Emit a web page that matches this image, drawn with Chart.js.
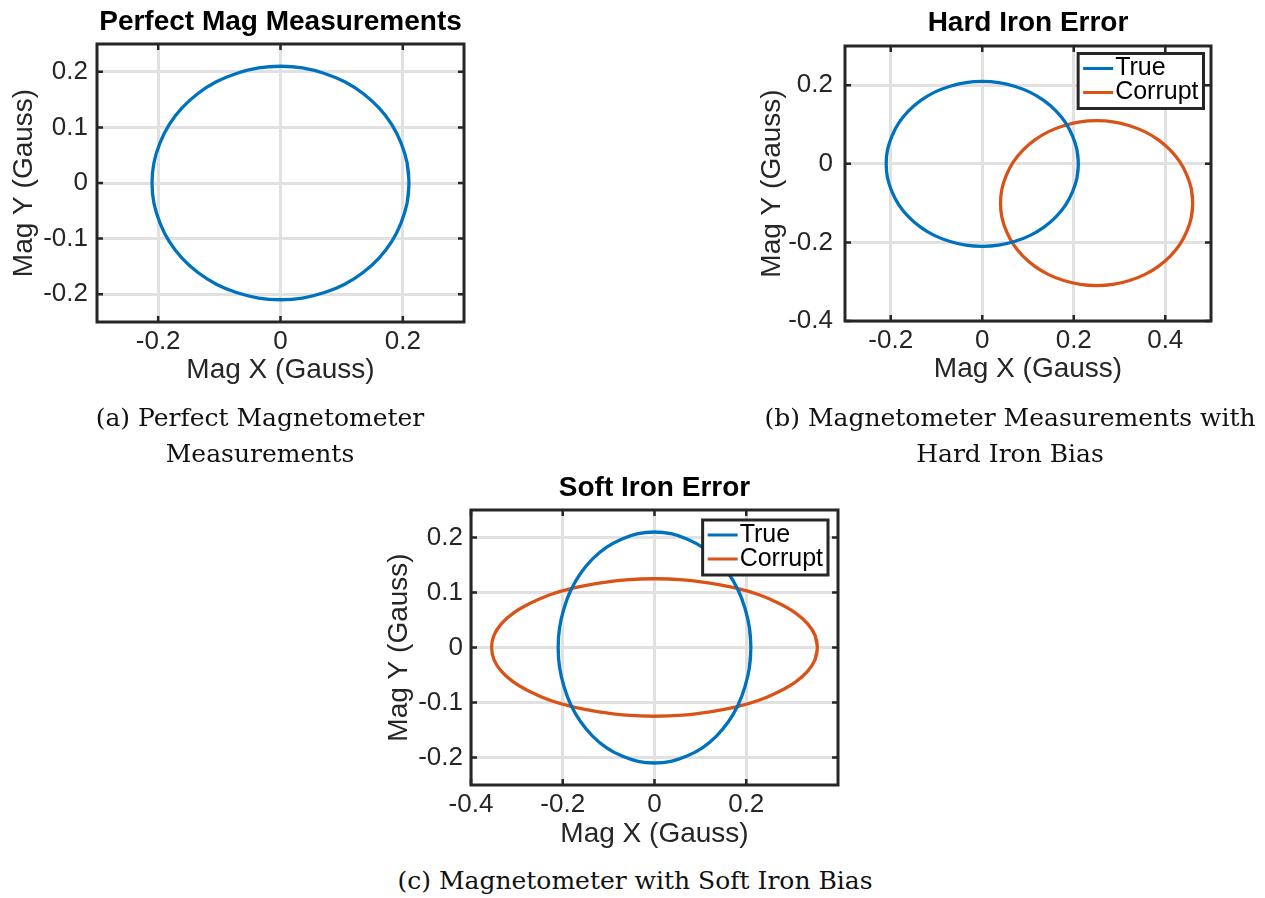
<!DOCTYPE html>
<html>
<head>
<meta charset="utf-8">
<script src="https://cdn.jsdelivr.net/npm/chart.js@4.4.1/dist/chart.umd.min.js"></script>
<style>
  html, body { margin: 0; padding: 0; background: #fff; }
  body { width: 1265px; height: 898px; position: relative; overflow: hidden; }
  canvas { position: absolute; }
  .cap { position: absolute; font-family: "DejaVu Serif", serif; font-size: 25px; line-height: 36px;
         color: #111; text-align: center; white-space: nowrap; }
</style>
</head>
<body>
<canvas id="chartA" width="480" height="395" style="left:0px;top:0px"></canvas>
<canvas id="chartB" width="525" height="395" style="left:740px;top:0px"></canvas>
<canvas id="chartC" width="500" height="395" style="left:370px;top:465px"></canvas>
<div class="cap" style="left:60px;width:400px;top:400px">(a) Perfect Magnetometer<br>Measurements</div>
<div class="cap" style="left:760px;width:500px;top:400px">(b) Magnetometer Measurements with<br>Hard Iron Bias</div>
<div class="cap" style="left:385px;width:500px;top:863px">(c) Magnetometer with Soft Iron Bias</div>
<script>
// tick positions of each panel
const ticksAX = [-0.2, 0, 0.2];
const ticksAY = [-0.2, -0.1, 0, 0.1, 0.2];
const ticksBX = [-0.2, 0, 0.2, 0.4];
const ticksBY = [-0.4, -0.2, 0, 0.2];
const ticksCX = [-0.4, -0.2, 0, 0.2];
const ticksCY = [-0.2, -0.1, 0, 0.1, 0.2];

const seriesNames = ['True', 'Corrupt'];

// points every ~10 deg; the first and last point
// overlap the start so the spline closes without a corner
// true field, radius ~0.21 G round the origin
const trueX = [0.207, 0.210, 0.207, 0.197, 0.182, 0.161, 0.135, 0.105, 0.072, 0.036, 0.000,
               -0.036, -0.072, -0.105, -0.135, -0.161, -0.182, -0.197, -0.207, -0.210,
               -0.207, -0.197, -0.182, -0.161, -0.135, -0.105, -0.072, -0.036, 0.000,
               0.036, 0.072, 0.105, 0.135, 0.161, 0.182, 0.197, 0.207, 0.210, 0.207];
const trueY = [-0.036, 0.000, 0.036, 0.072, 0.105, 0.135, 0.161, 0.182, 0.197, 0.207, 0.210,
               0.207, 0.197, 0.182, 0.161, 0.135, 0.105, 0.072, 0.036, 0.000,
               -0.036, -0.072, -0.105, -0.135, -0.161, -0.182, -0.197, -0.207, -0.210,
               -0.207, -0.197, -0.182, -0.161, -0.135, -0.105, -0.072, -0.036, 0.000, 0.036];

// hard iron: same circle shifted to about (0.25, -0.1)
const hardX = [0.457, 0.460, 0.457, 0.447, 0.432, 0.411, 0.385, 0.355, 0.322, 0.286, 0.250,
               0.214, 0.178, 0.145, 0.115, 0.089, 0.068, 0.053, 0.043, 0.040,
               0.043, 0.053, 0.068, 0.089, 0.115, 0.145, 0.178, 0.214, 0.250,
               0.286, 0.322, 0.355, 0.385, 0.411, 0.432, 0.447, 0.457, 0.460, 0.457];
const hardY = [-0.136, -0.100, -0.064, -0.028, 0.005, 0.035, 0.061, 0.082, 0.097, 0.107, 0.110,
               0.107, 0.097, 0.082, 0.061, 0.035, 0.005, -0.028, -0.064, -0.100,
               -0.136, -0.172, -0.205, -0.235, -0.261, -0.282, -0.297, -0.307, -0.310,
               -0.307, -0.297, -0.282, -0.261, -0.235, -0.205, -0.172, -0.136, -0.100, -0.064];

// soft iron: stretched in x (~0.355), squashed in y (~0.125)
const softX = [0.350, 0.355, 0.350, 0.334, 0.307, 0.272, 0.228, 0.178, 0.121, 0.062, 0.000,
               -0.062, -0.121, -0.178, -0.228, -0.272, -0.307, -0.334, -0.350, -0.355,
               -0.350, -0.334, -0.307, -0.272, -0.228, -0.178, -0.121, -0.062, 0.000,
               0.062, 0.121, 0.178, 0.228, 0.272, 0.307, 0.334, 0.350, 0.355, 0.350];
const softY = [-0.022, 0.000, 0.022, 0.043, 0.063, 0.080, 0.096, 0.108, 0.117, 0.123, 0.125,
               0.123, 0.117, 0.108, 0.096, 0.080, 0.063, 0.043, 0.022, 0.000,
               -0.022, -0.043, -0.063, -0.080, -0.096, -0.108, -0.117, -0.123, -0.125,
               -0.123, -0.117, -0.108, -0.096, -0.080, -0.063, -0.043, -0.022, 0.000, 0.022];

const BLUE = '#0072BD';
const RED = '#D95319';
const AXIS = '#262626';
const SANS = '"Liberation Sans", Arial, Helvetica, sans-serif';

function toPoints(xs, ys) {
    return xs.map((x, i) => ({ x: x, y: ys[i] }));
}

function series(label, xs, ys, color) {
    return {
        label: label,
        data: toPoints(xs, ys),
        showLine: true,
        borderColor: color,
        backgroundColor: color,
        borderWidth: 3.3,
        pointRadius: 0,
        tension: 0.34,
        fill: false
    };
}

// legend box drawn on top of the curves, like matlab's
function drawLegend(chart, inset) {
    const ctx = chart.ctx;
    const a = chart.chartArea;
    const sets = chart.data.datasets;
    ctx.font = '25px ' + SANS;
    const textW = Math.max(...sets.map(d => ctx.measureText(d.label).width));
    const w = 5 + 30 + 2 + textW + 5;
    const h = 7 + sets.length * 24;
    const x0 = a.right - inset - w;
    const y0 = a.top + inset;
    ctx.fillStyle = '#fff';
    ctx.fillRect(x0, y0, w, h);
    ctx.lineWidth = 3;
    ctx.strokeStyle = AXIS;
    ctx.strokeRect(x0, y0, w, h);
    sets.forEach((d, i) => {
        const cy = y0 + 15 + i * 24;
        ctx.strokeStyle = d.borderColor;
        ctx.lineWidth = 3;
        ctx.beginPath();
        ctx.moveTo(x0 + 5, cy);
        ctx.lineTo(x0 + 35, cy);
        ctx.stroke();
        ctx.fillStyle = '#000';
        ctx.textBaseline = 'middle';
        ctx.textAlign = 'left';
        ctx.fillText(d.label, x0 + 37, cy);
    });
}

// box round the axes with inward ticks on all four sides
const boxPlugin = {
    id: 'matlabBox',
    afterDraw(chart, args, opts) {
        const { ctx, chartArea: a, scales } = chart;
        const tl = 6;
        ctx.save();
        ctx.strokeStyle = AXIS;
        ctx.lineWidth = 2.5;
        ctx.beginPath();
        scales.x.ticks.forEach(t => {
            const px = scales.x.getPixelForValue(t.value);
            ctx.moveTo(px, a.bottom); ctx.lineTo(px, a.bottom - tl);
            ctx.moveTo(px, a.top); ctx.lineTo(px, a.top + tl);
        });
        scales.y.ticks.forEach(t => {
            const py = scales.y.getPixelForValue(t.value);
            ctx.moveTo(a.left, py); ctx.lineTo(a.left + tl, py);
            ctx.moveTo(a.right, py); ctx.lineTo(a.right - tl, py);
        });
        ctx.stroke();
        ctx.lineWidth = 3;
        ctx.strokeRect(a.left, a.top, a.right - a.left, a.bottom - a.top);
        if (opts.legendInset !== undefined) {
            drawLegend(chart, opts.legendInset);
        }
        ctx.restore();
    }
};

function axis(min, max, tickList, title, size, fitH, titlePad, tickPad) {
    return {
        type: 'linear',
        min: min,
        max: max,
        afterBuildTicks: s => { s.ticks = tickList.map(v => ({ value: v })); },
        afterFit: s => { if (fitH) { s.height = size; } else { s.width = size; } },
        grid: { color: '#e1e1e1', lineWidth: 3, drawTicks: false },
        border: { display: false },
        ticks: {
            color: AXIS,
            font: { family: SANS, size: 26 },
            padding: tickPad,
            maxRotation: 0,
            autoSkip: false,
            callback: v => String(v)
        },
        title: {
            display: true,
            text: title,
            color: AXIS,
            font: { family: SANS, size: 28 },
            padding: fitH ? { top: 0, bottom: titlePad } : { top: titlePad, bottom: 0 }
        }
    };
}

function makeChart(id, p) {
    const ctx = document.getElementById(id).getContext('2d');
    return new Chart(ctx, {
        type: 'scatter',
        data: { datasets: p.datasets },
        options: {
            responsive: false,
            animation: false,
            layout: { padding: p.padding },
            scales: {
                x: axis(p.xMin, p.xMax, p.xTicks, 'Mag X (Gauss)', p.xH, true, p.xTitlePad, 4),
                y: axis(p.yMin, p.yMax, p.yTicks, 'Mag Y (Gauss)', p.yW, false, p.yTitlePad, p.yTickPad)
            },
            plugins: {
                legend: { display: false },
                tooltip: { enabled: false },
                title: {
                    display: true,
                    text: p.title,
                    fullSize: false,
                    color: '#000',
                    font: { family: SANS, size: 28, weight: 'bold' },
                    padding: p.titlePad
                },
                matlabBox: { legendInset: p.legendInset }
            }
        },
        plugins: [boxPlugin]
    });
}

makeChart('chartA', {
    title: 'Perfect Mag Measurements',
    datasets: [series(seriesNames[0], trueX, trueY, BLUE)],
    xMin: -0.3, xMax: 0.3, xTicks: ticksAX,
    yMin: -0.25, yMax: 0.25, yTicks: ticksAY,
    padding: { left: 0, right: 16, top: 0, bottom: 3 },
    yW: 97, xH: 70,
    titlePad: { top: 5.5, bottom: 4.9 },
    xTitlePad: 5, yTitlePad: 7, yTickPad: 9
});

makeChart('chartB', {
    title: 'Hard Iron Error',
    datasets: [series(seriesNames[0], trueX, trueY, BLUE), series(seriesNames[1], hardX, hardY, RED)],
    xMin: -0.3, xMax: 0.5, xTicks: ticksBX,
    yMin: -0.4, yMax: 0.3, yTicks: ticksBY,
    padding: { left: 0, right: 54, top: 0, bottom: 4 },
    yW: 105, xH: 70,
    titlePad: { top: 6.5, bottom: 5.9 },
    xTitlePad: 5, yTitlePad: 15.5, yTickPad: 12,
    legendInset: 7.5
});

makeChart('chartC', {
    title: 'Soft Iron Error',
    datasets: [series(seriesNames[0], trueX, trueY, BLUE), series(seriesNames[1], softX, softY, RED)],
    xMin: -0.4, xMax: 0.4, xTicks: ticksCX,
    yMin: -0.25, yMax: 0.25, yTicks: ticksCY,
    padding: { left: 0, right: 32, top: 0, bottom: 5 },
    yW: 101, xH: 70,
    titlePad: { top: 6, bottom: 5.4 },
    xTitlePad: 4, yTitlePad: 12.5, yTickPad: 8,
    legendInset: 10
});
</script>
</body>
</html>
